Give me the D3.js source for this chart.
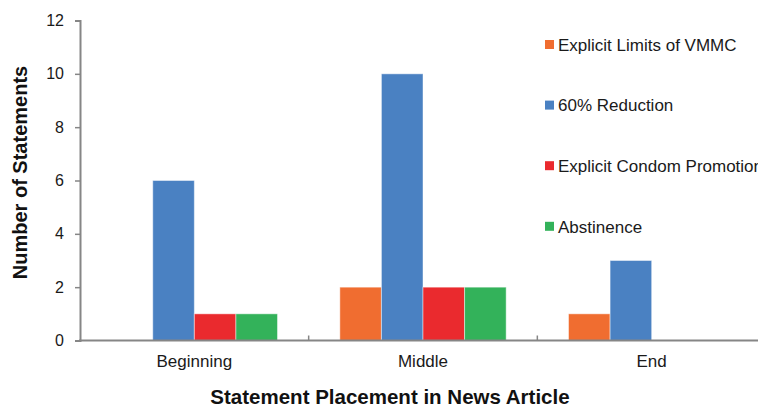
<!DOCTYPE html>
<html>
<head>
<meta charset="utf-8">
<script src="https://cdn.jsdelivr.net/npm/d3@7/dist/d3.min.js"></script>
<style>
    body { margin: 0; background: #fff; }
    svg { display: block; font-family: "Liberation Sans", Arial, sans-serif; }
</style>
</head>
<body>
<div id="chart"></div>
<script>
// Data
const categories = ["Beginning", "Middle", "End"];
const seriesNames = ["Explicit Limits of VMMC", "60% Reduction", "Explicit Condom Promotion", "Abstinence"];
const seriesColors = ["#f06d30", "#4a81c2", "#ea2a2e", "#33b25a"];
const values = [
    [0, 2, 1],   // Explicit Limits of VMMC
    [6, 10, 3],  // 60% Reduction
    [1, 2, 0],   // Explicit Condom Promotion
    [1, 2, 0]    // Abstinence
];
const yTicks = [0, 2, 4, 6, 8, 10, 12];

const width = 758, height = 408;
// plot extends past the right edge in the original, so it gets clipped the same way
const plot = { left: 80, right: 766, top: 20.5, bottom: 340.5 };

const svg = d3.select("#chart")
    .append("svg")
    .attr("width", width)
    .attr("height", height);

// Scales
const x0 = d3.scaleBand()
    .domain(categories)
    .range([plot.left, plot.right])
    .paddingInner(0)
    .paddingOuter(0);

const x1 = d3.scaleBand()
    .domain(seriesNames)
    .range([0, x0.bandwidth()])
    .paddingInner(0)
    .paddingOuter(0.75);

const y = d3.scaleLinear()
    .domain([0, 12])
    .range([plot.bottom, plot.top]);

// Bars
seriesNames.forEach((name, si) => {
    svg.append("g")
        .selectAll("rect")
        .data(categories.map((c, ci) => ({ c, v: values[si][ci] })).filter(d => d.v > 0))
        .join("rect")
        .attr("x", d => x0(d.c) + x1(name))
        .attr("y", d => y(d.v))
        .attr("width", x1.bandwidth())
        .attr("height", d => y(0) - y(d.v))
        .attr("fill", seriesColors[si])
        .attr("stroke", "rgba(255,255,255,0.45)")
        .attr("stroke-width", 1);
});

// Y axis
const yAxis = svg.append("g")
    .attr("transform", `translate(${plot.left},0)`)
    .call(d3.axisLeft(y).tickValues(yTicks).tickSize(5).tickPadding(11));
yAxis.select(".domain").attr("stroke", "#868686").attr("stroke-width", 2);
yAxis.selectAll(".tick line").attr("stroke", "#868686").attr("stroke-width", 1.5);
yAxis.selectAll(".tick text")
    .attr("fill", "#1a1a1a")
    .attr("font-size", "16px")
    .attr("font-family", "Liberation Sans, Arial, sans-serif");

// X axis line + category separators
svg.append("line")
    .attr("x1", plot.left - 1)
    .attr("x2", plot.right)
    .attr("y1", y(0))
    .attr("y2", y(0))
    .attr("stroke", "#868686")
    .attr("stroke-width", 2);

svg.append("g")
    .selectAll("line")
    .data(categories.slice(1))
    .join("line")
    .attr("x1", d => x0(d))
    .attr("x2", d => x0(d))
    .attr("y1", y(0))
    .attr("y2", y(0) - 5)
    .attr("stroke", "#868686")
    .attr("stroke-width", 1.5);

svg.append("g")
    .selectAll("text")
    .data(categories)
    .join("text")
    .attr("x", d => x0(d) + x0.bandwidth() / 2)
    .attr("y", 367)
    .attr("text-anchor", "middle")
    .attr("font-size", "17px")
    .attr("fill", "#1a1a1a")
    .text(d => d);

// Axis titles
svg.append("text")
    .attr("x", 390)
    .attr("y", 404)
    .attr("text-anchor", "middle")
    .attr("font-size", "20.5px")
    .attr("font-weight", "bold")
    .attr("fill", "#111")
    .text("Statement Placement in News Article");

svg.append("text")
    .attr("transform", `translate(27,${(68 + 277) / 2}) rotate(-90)`)
    .attr("text-anchor", "middle")
    .attr("font-size", "20px")
    .attr("font-weight", "bold")
    .attr("fill", "#111")
    .text("Number of Statements");

// Legend
const legend = svg.append("g")
    .selectAll("g")
    .data(seriesNames)
    .join("g")
    .attr("transform", (d, i) => `translate(545,${40 + i * 60.6})`);

legend.append("rect")
    .attr("width", 9)
    .attr("height", 9)
    .attr("fill", (d, i) => seriesColors[i]);

legend.append("text")
    .attr("x", 13)
    .attr("y", 10.7)
    .attr("font-size", "17px")
    .attr("fill", "#1a1a1a")
    .text(d => d);
</script>
</body>
</html>
